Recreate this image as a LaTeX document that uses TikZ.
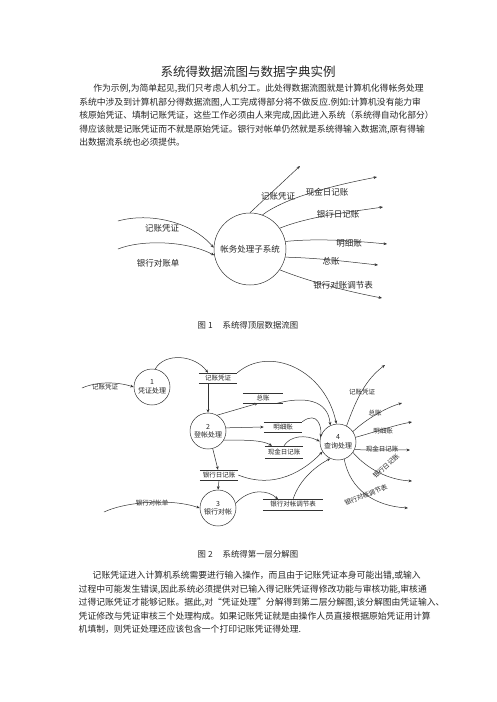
\documentclass[tikz,border=0pt]{standalone}
\usepackage{fontspec}
\setmainfont{Noto Sans CJK SC}
\usepackage{tikz}
\usetikzlibrary{positioning}
\usetikzlibrary{arrows.meta}

\begin{document}
\begin{tikzpicture}[x=1pt, y=-1pt, line width=0.5pt, draw=black!80, text=black!85,
                          >={Stealth[length=3.5pt,width=2.8pt]},
                          bignode/.style={circle, draw, minimum size=72pt, inner sep=0pt, font=\fontsize{8.5}{10}\selectfont},
                          flowlabel/.style={inner sep=0pt, font=\fontsize{8.5}{10}\selectfont},
                          procnode/.style={circle, draw, minimum size=36pt, inner sep=0pt, align=center, font=\fontsize{7}{8.5}\selectfont},
                          storenode/.style={minimum width=38pt, minimum height=10pt, inner sep=0pt, font=\fontsize{6.5}{7}\selectfont},
                          smalllabel/.style={inner sep=0pt, font=\fontsize{6.5}{7}\selectfont},
                          textpara/.style={anchor=north west, inner sep=0pt, align=left, font=\fontsize{8.8}{13.5}\selectfont},
                          figcaption/.style={inner sep=0pt, font=\fontsize{8.4}{10}\selectfont},
                      ]
                      \useasboundingbox (0,0) rectangle (496,702);
                      \fill[white] (0,0) rectangle (496,702);

                      %Text
                      \node[font=\fontsize{12.5}{14}\selectfont] (title) at (248,72) {系统得数据流图与数据字典实例};
                      \node[textpara] (para1) at (79,84) {\hspace*{14pt}作为示例,为简单起见,我们只考虑人机分工。此处得数据流图就是计算机化得帐务处理\\
                      系统中涉及到计算机部分得数据流图,人工完成得部分将不做反应.例如:计算机没有能力审\\
                      核原始凭证、填制记账凭证，这些工作必须由人来完成,因此进入系统（系统得自动化部分）\\
                      得应该就是记账凭证而不就是原始凭证。银行对帐单仍然就是系统得输入数据流,原有得输\\
                      出数据流系统也必须提供。};

                      %Figure 1 nodes
                      \node[bignode]      (sys)      at (250,249)   {帐务处理子系统};
                      \coordinate (srcA) at (118,221);
                      \coordinate (srcB) at (118,249);
                      \coordinate (outA) at (300,166);
                      \coordinate (outB) at (377,177);
                      \coordinate (outC) at (383,207);
                      \coordinate (outD) at (387,244);
                      \coordinate (outE) at (378,265);
                      \coordinate (outF) at (382,298);
                      \node[flowlabel] (lA) at (162,228) {记账凭证};
                      \node[flowlabel] (lB) at (158,263) {银行对账单};
                      \node[flowlabel] (lC) at (278,196) {记账凭证};
                      \node[flowlabel] (lD) at (327,192) {现金日记账};
                      \node[flowlabel] (lE) at (338,214) {银行日记账};
                      \node[flowlabel] (lF) at (349,243) {明细账};
                      \node[flowlabel] (lG) at (331,261) {总账};
                      \node[flowlabel] (lH) at (343,285) {银行对账调节表};

                      %Figure 1 lines
                      \draw[->] (srcA) .. controls (150,212) and (192,222) .. (sys.178);
                      \draw[->] (srcB) .. controls (140,240) and (185,240) .. (sys.190);
                      \draw[->] (sys.90) -- (outA);
                      \draw[->] (sys.70) .. controls (285,198) and (330,186) .. (outB);
                      \draw[->] (sys.35) .. controls (310,216) and (350,212) .. (outC);
                      \draw[->] (sys.12) .. controls (320,238) and (355,241) .. (outD);
                      \draw[->] (sys.-13) .. controls (320,258) and (350,262) .. (outE);
                      \draw[->] (sys.-35) .. controls (310,282) and (350,292) .. (outF);

                      \node[figcaption] (cap1) at (248,325) {图 1\hspace{10pt}系统得顶层数据流图};

                      %Figure 2 nodes
                      \node[procnode] (p1) at (152,387) {1\\凭证处理};
                      \node[procnode] (p2) at (208,431) {2\\登帐处理};
                      \node[procnode] (p3) at (218,508) {3\\银行对帐};
                      \node[procnode] (p4) at (338,442) {4\\查询处理};
                      \node[storenode]                     (sjz) at (218,378)   {记账凭证};
                      \node[storenode, minimum width=40pt] (szz) at (263,398)   {总账};
                      \node[storenode]                     (smx) at (283,427)   {明细账};
                      \node[storenode, minimum height=12pt] (sxj) at (284,452)  {现金日记账};
                      \node[storenode]                     (syh) at (219,475)   {银行日记账};
                      \node[storenode, minimum width=60pt] (stj) at (293,504.5) {银行对帐调节表};
                      \foreach \s in {sjz,szz,smx,sxj,syh,stj}
                        \draw (\s.north west) -- (\s.north east) (\s.south west) -- (\s.south east);
                      \coordinate (srcC) at (82,388);
                      \coordinate (srcD) at (104,512);
                      \coordinate (dstA) at (385,365);
                      \coordinate (dstB) at (402,403);
                      \coordinate (dstC) at (412,422);
                      \coordinate (dstD) at (410,450);
                      \coordinate (dstE) at (412,481);
                      \coordinate (dstF) at (408,508);
                      \node[smalllabel] (lin1) at (105,387) {记账凭证};
                      \node[smalllabel] (lin2) at (152,503) {银行对帐单};
                      \node[smalllabel] (lo1) at (362,392) {记账凭证};
                      \node[smalllabel] (lo2) at (375,413) {总账};
                      \node[smalllabel] (lo3) at (383,431) {明细账};
                      \node[smalllabel] (lo4) at (382,449) {现金日记账};
                      \node[smalllabel, rotate=42] (lo5) at (386,466) {银行日记账};
                      \node[smalllabel, rotate=22] (lo6) at (366,495) {银行对帐调节表};

                      %Figure 2 lines
                      \draw[->] (srcC) .. controls (98,381) and (118,382) .. (p1.west);
                      \draw[->] (p1.80) .. controls (165,352) and (195,355) .. (sjz.north -| p2);
                      \draw[->] (sjz.south -| p2) -- (p2.north);
                      \draw[->] (p2.60) -- ([xshift=-5pt]szz.south);
                      \draw[->] (p2.10) -- (smx.west);
                      \draw[->] (p2.-30) .. controls (245,440) and (262,440) .. ([xshift=-12pt]sxj.north);
                      \draw[->] (p2.-75) -- ([xshift=-1pt]syh.north);
                      \draw[->] (syh.south) -- (p3.north);
                      \draw[->] (srcD) .. controls (125,502) and (170,498) .. (p3.west);
                      \draw[->] (p3.15) .. controls (250,488) and (268,490) .. ([xshift=-15pt]stj.north);
                      \draw[->] (sjz.north east) .. controls (270,345) and (325,370) .. (p4.95);
                      \draw[->] ([xshift=14pt]szz.south) .. controls (305,396) and (328,400) .. (p4.115);
                      \draw[->] (smx.north east) .. controls (318,410) and (322,428) .. (p4.165);
                      \draw[->] (sxj.north) .. controls (290,436) and (305,434) .. (p4.178);
                      \draw[->] (syh.east) .. controls (275,490) and (305,470) .. (p4.212);
                      \draw[->] (stj.north) .. controls (300,478) and (318,465) .. (p4.245);
                      \draw[->] (p4.62) .. controls (356,400) and (365,380) .. (dstA);
                      \draw[->] (p4.35) .. controls (365,420) and (385,408) .. (dstB);
                      \draw[->] (p4.15) .. controls (375,432) and (395,425) .. (dstC);
                      \draw[->] (p4.-25) -- (dstD);
                      \draw[->] (p4.-35) .. controls (368,470) and (390,480) .. (dstE);
                      \draw[->] (p4.-70) .. controls (350,490) and (375,506) .. (dstF);

                      \node[figcaption] (cap2) at (248,554) {图 2\hspace{10pt}系统得第一层分解图};
                      \node[textpara] (para2) [below=13pt of cap2.south west, xshift=-119pt, anchor=north west] {\hspace*{14pt}记账凭证进入计算机系统需要进行输入操作，而且由于记账凭证本身可能出错,或输入\\
                      过程中可能发生错误,因此系统必须提供对已输入得记账凭证得修改功能与审核功能,审核通\\
                      过得记账凭证才能够记账。据此,对“凭证处理”分解得到第二层分解图,该分解图由凭证输入、\\
                      凭证修改与凭证审核三个处理构成。如果记账凭证就是由操作人员直接根据原始凭证用计算\\
                      机填制，则凭证处理还应该包含一个打印记账凭证得处理.};
                  \end{tikzpicture}
\end{document}
